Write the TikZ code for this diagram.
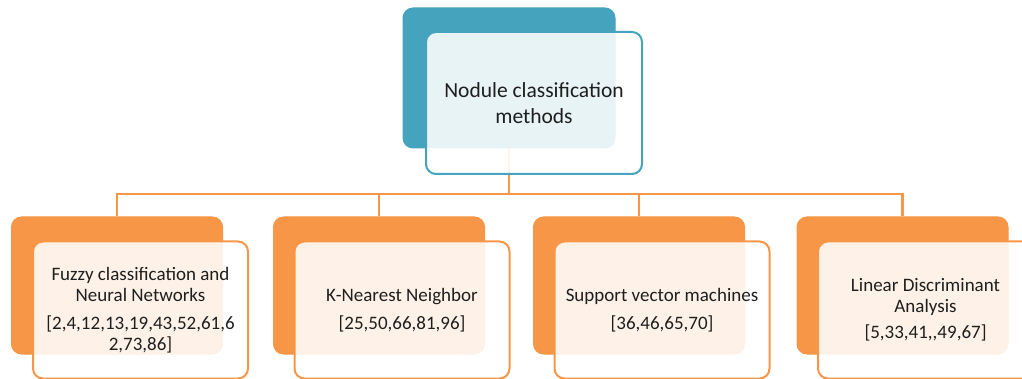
\documentclass[tikz,border=0pt]{standalone}
\usepackage{fontspec}
\setmainfont{Carlito}
\definecolor{teal1}{HTML}{46A3BD}
\definecolor{orng}{HTML}{F79646}
\definecolor{txt}{HTML}{1E1E1E}
\begin{document}
\begin{tikzpicture}[x=1pt,y=-1pt,
  backbox/.style={draw=#1,fill=#1,line width=1pt,rounded corners=10pt,minimum width=211pt,minimum height=137pt,inner sep=0pt},
  frontbox/.style={draw=#1,fill=white,fill opacity=0.88,text opacity=1,line width=2pt,rounded corners=10pt,minimum width=215pt,minimum height=137pt,inner sep=0pt,align=center,text=txt,font=\fontsize{19}{21}\selectfont},
  conn/.style={draw=orng,line width=2.8pt}]
\useasboundingbox (0,0) rectangle (1022,379);
\clip (0,0) rectangle (1022,379);
% back boxes
\node[backbox=teal1,minimum width=212pt,minimum height=140pt] (tb) at (509,78) {};
\node[backbox=orng] (b1) at (117,285.5) {};
\node[backbox=orng] (b2) at (379,285.5) {};
\node[backbox=orng] (b3) at (639,285.5) {};
\node[backbox=orng] (b4) at (902.5,285.5) {};
% connectors
\coordinate (h1) at (117,194);
\coordinate (h2) at (379,194);
\coordinate (h3) at (639,194);
\coordinate (h4) at (902.5,194);
\draw[conn] (tb.south) -- (tb.south |- h1);
\draw[conn] (b1.north) -- (h1) -- (h4) -- (b4.north);
\draw[conn] (h2) -- (b2.north);
\draw[conn] (h3) -- (b3.north);
% front boxes
\node[frontbox=teal1,minimum width=216pt,minimum height=142pt,font=\fontsize{21.5}{26}\selectfont] (tf) at (534,103) {Nodule classification\\methods};
\node[frontbox=orng] (f1) at (140.5,310) {Fuzzy classification and\\Neural Networks\\[7pt][2,4,12,13,19,43,52,61,6\\2,73,86]};
\node[frontbox=orng] (f2) at (402,310) {K-Nearest Neighbor\\[7pt][25,50,66,81,96]};
\node[frontbox=orng] (f3) at (662,310) {Support vector machines\\[7pt][36,46,65,70]};
\node[frontbox=orng] (f4) at (925.5,310) {Linear Discriminant\\Analysis\\[5pt][5,33,41,\kern0pt,49,67]};
\end{tikzpicture}
\end{document}
